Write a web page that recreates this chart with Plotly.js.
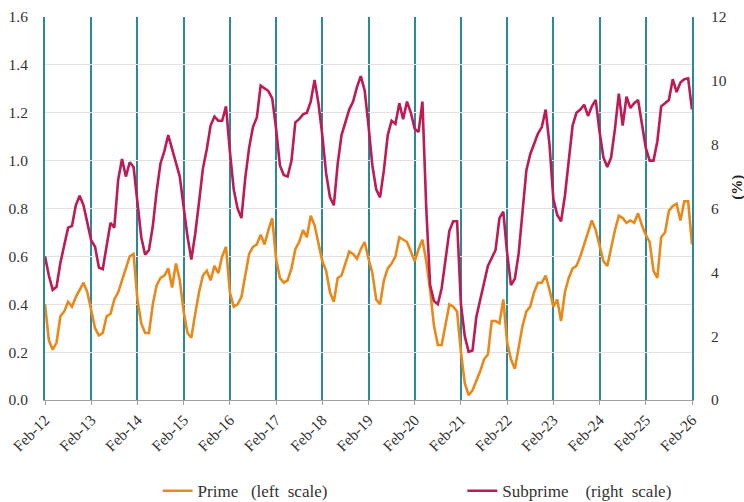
<!DOCTYPE html>
<html>
<head>
<meta charset="utf-8">
<script src="https://cdn.plot.ly/plotly-3.0.1.min.js"></script>
<style>
  html, body { margin: 0; padding: 0; background: #ffffff; }
  #chart { width: 744px; height: 502px; }
</style>
</head>
<body>
<div id="chart"></div>
<script>
// Monthly series, Feb-2012 through Feb-2026
const monthNames = ["Jan","Feb","Mar","Apr","May","Jun","Jul","Aug","Sep","Oct","Nov","Dec"];
const firstYear = 2012;
const lastYear = 2026;

// Prime delinquency rate (left scale)
const prime = [
  0.40,0.25,0.21,0.24,0.35,0.37,0.41,0.39,0.43,0.46,0.49,0.45,
  0.37,0.30,0.27,0.28,0.35,0.36,0.42,0.45,0.50,0.55,0.60,0.61,
  0.42,0.32,0.28,0.28,0.40,0.48,0.51,0.52,0.55,0.47,0.57,0.50,
  0.37,0.28,0.26,0.36,0.45,0.52,0.54,0.50,0.56,0.53,0.60,0.64,
  0.45,0.39,0.40,0.43,0.52,0.61,0.64,0.65,0.69,0.65,0.71,0.76,
  0.59,0.51,0.49,0.50,0.55,0.63,0.66,0.71,0.68,0.77,0.73,0.65,
  0.58,0.54,0.45,0.41,0.51,0.52,0.57,0.62,0.61,0.59,0.63,0.66,
  0.59,0.53,0.42,0.40,0.50,0.55,0.57,0.60,0.68,0.67,0.66,0.62,
  0.58,0.63,0.67,0.58,0.46,0.31,0.23,0.23,0.32,0.40,0.39,0.37,
  0.20,0.07,0.02,0.04,0.08,0.12,0.17,0.19,0.33,0.33,0.32,0.42,
  0.24,0.17,0.13,0.22,0.31,0.37,0.39,0.45,0.49,0.49,0.52,0.46,
  0.39,0.42,0.33,0.45,0.51,0.55,0.56,0.60,0.65,0.69,0.75,0.71,
  0.65,0.58,0.56,0.64,0.71,0.77,0.76,0.74,0.75,0.74,0.78,0.73,
  0.69,0.66,0.54,0.51,0.68,0.70,0.79,0.81,0.82,0.75,0.83,0.83,
  0.65
];

// Subprime delinquency rate, % (right scale)
const subprime = [
  4.50,3.90,3.45,3.55,4.30,4.90,5.40,5.45,6.10,6.40,6.10,5.55,
  5.00,4.80,4.15,4.10,4.85,5.55,5.40,6.90,7.55,7.00,7.45,7.30,
  6.20,5.10,4.55,4.70,5.45,6.55,7.42,7.80,8.30,7.85,7.45,7.00,
  6.05,5.12,4.40,5.20,6.20,7.25,7.85,8.60,8.88,8.75,8.75,9.20,
  7.80,6.60,6.00,5.70,6.95,7.90,8.55,8.85,9.85,9.75,9.68,9.45,
  8.50,7.35,7.05,7.00,7.50,8.70,8.80,8.95,9.00,9.35,10.03,9.30,
  8.30,7.10,6.35,6.10,7.40,8.30,8.68,9.10,9.35,9.80,10.15,9.70,
  8.60,7.35,6.60,6.35,7.20,8.30,8.75,8.65,9.30,8.80,9.35,9.00,
  8.50,8.40,9.35,6.00,3.60,3.10,3.00,3.50,4.40,5.30,5.60,5.60,
  3.00,2.00,1.51,1.55,2.60,3.15,3.75,4.20,4.45,4.70,5.70,5.90,
  4.60,3.60,3.80,4.60,5.90,7.20,7.70,8.05,8.35,8.55,9.10,8.00,
  6.30,5.80,5.60,6.40,7.60,8.60,9.00,9.10,9.25,8.90,9.20,9.40,
  8.40,7.60,7.30,7.60,8.50,9.60,8.60,9.50,9.15,9.30,9.40,8.60,
  7.90,7.50,7.50,8.10,9.20,9.30,9.40,10.05,9.65,9.95,10.05,10.08,
  9.10
];

// Month category labels, e.g. "Feb-12"
const months = [];
for (let y = firstYear; y <= lastYear; y++) {
  for (let m = 0; m < 12; m++) {
    if (y === firstYear && m < 1) continue;
    if (y === lastYear && m > 1) break;
    months.push(monthNames[m] + "-" + String(y).slice(2));
  }
}
// Yearly ticks on each February
const febTicks = months.filter(function (m) { return m.indexOf("Feb-") === 0; });

const serif = "Liberation Serif";
const tickColor = "#333333";
const yearLine = "#2B8A99";

const traces = [
  {
    x: months, y: prime, type: "scatter", mode: "lines",
    name: "Prime\u00a0\u00a0\u00a0(left\u00a0\u00a0scale)",
    line: { color: "#E8891C", width: 2.6 },
    yaxis: "y",
    legend: "legend"
  },
  {
    x: months, y: subprime, type: "scatter", mode: "lines",
    name: "Subprime\u00a0\u00a0\u00a0\u00a0(right\u00a0\u00a0scale)",
    line: { color: "#BE1A55", width: 2.6 },
    yaxis: "y2",
    legend: "legend2"
  }
];

const legendFont = { family: serif, size: 17, color: tickColor };

const layout = {
  width: 744, height: 502,
  margin: { l: 45, r: 52, t: 17, b: 102, autoexpand: false },
  paper_bgcolor: "#ffffff",
  plot_bgcolor: "#ffffff",
  showlegend: true,
  font: { family: serif, color: tickColor, size: 15 },
  xaxis: {
    type: "category",
    range: [0, months.length - 1],
    tickmode: "array",
    tickvals: febTicks,
    ticktext: febTicks,
    tickangle: -45,
    tickfont: { family: serif, size: 15.5, color: tickColor },
    showgrid: true,
    gridcolor: yearLine,
    gridwidth: 2,
    showline: true,
    linecolor: "#A0A0A0",
    linewidth: 1,
    ticks: "outside",
    ticklen: 4,
    tickcolor: "#A0A0A0",
    zeroline: false
  },
  yaxis: {
    range: [0, 1.6],
    dtick: 0.2,
    tickformat: ".1f",
    showgrid: true,
    gridcolor: "#E3E3E3",
    gridwidth: 1,
    zeroline: false,
    showline: true,
    linecolor: yearLine,
    linewidth: 2,
    ticks: "",
    ticklabelstandoff: 12,
    tickfont: { family: serif, size: 15.5, color: tickColor }
  },
  yaxis2: {
    range: [0, 12],
    dtick: 2,
    overlaying: "y",
    side: "right",
    showgrid: false,
    zeroline: false,
    showline: true,
    linecolor: yearLine,
    linewidth: 2,
    ticks: "",
    ticklabelstandoff: 14,
    tickfont: { family: serif, size: 15.5, color: tickColor }
  },
  legend: {
    x: 0.174, xanchor: "left",
    y: -0.238, yanchor: "middle",
    font: legendFont,
    bgcolor: "rgba(0,0,0,0)"
  },
  legend2: {
    x: 0.645, xanchor: "left",
    y: -0.238, yanchor: "middle",
    font: legendFont,
    bgcolor: "rgba(0,0,0,0)"
  },
  annotations: [
    {
      text: "<b>(%)</b>", xref: "paper", yref: "paper",
      x: 1.07, y: 0.555, xanchor: "center", yanchor: "middle",
      textangle: -90, showarrow: false,
      font: { family: serif, size: 15, color: "#222222" }
    }
  ]
};

Plotly.newPlot("chart", traces, layout, { displayModeBar: false, staticPlot: true });
</script>
</body>
</html>
